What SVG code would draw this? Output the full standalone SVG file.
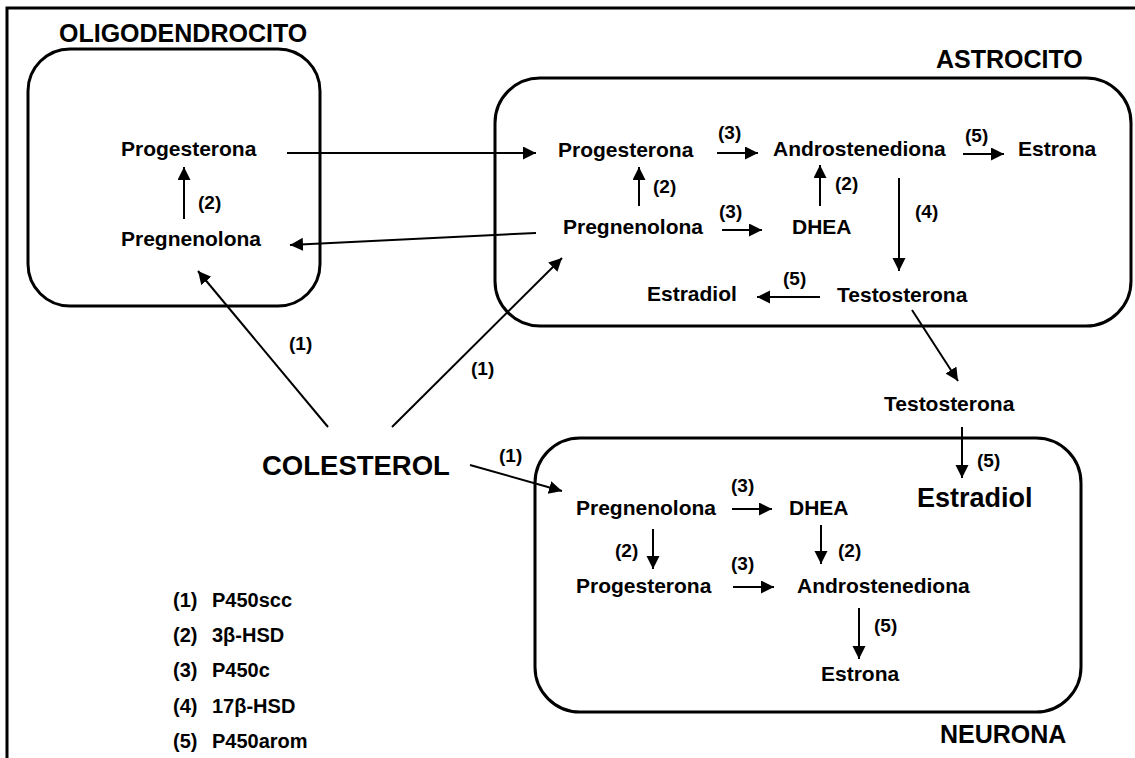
<svg xmlns="http://www.w3.org/2000/svg" width="1135" height="758" viewBox="0 0 1135 758">
<defs>
<style>
text{font-family:"Liberation Sans",Arial,sans-serif;font-weight:bold;fill:#000}
.t{font-size:21px}
.s{font-size:19px}
.h{font-size:25px}
.g{font-size:27.5px}
.l{font-size:20px}
.box{fill:none;stroke:#000;stroke-width:3}
.c{fill:none;stroke:#000;stroke-width:2}
</style>
<marker id="a" markerUnits="userSpaceOnUse" markerWidth="14" markerHeight="14" refX="13" refY="6.5" orient="auto"><path d="M0,0 L13,6.5 L0,13 z" fill="#000"/></marker>
</defs>
<rect width="1135" height="758" fill="#fff"/>
<g id="frame"><path d="M7,758 V8 H1135" fill="none" stroke="#000" stroke-width="3"/></g>

<g id="oligodendrocito">
<rect class="box" x="28" y="49" width="292" height="257" rx="42"/>
<text class="h" x="59" y="42">OLIGODENDROCITO</text>
<text class="t" x="121" y="156">Progesterona</text>
<text class="t" x="121" y="246">Pregnenolona</text>
</g>

<g id="astrocito">
<rect class="box" x="495" y="78" width="636" height="248" rx="45"/>
<text class="h" x="936" y="68">ASTROCITO</text>
<text class="t" x="558" y="157">Progesterona</text>
<text class="t" x="773" y="156">Androstenediona</text>
<text class="t" x="1018" y="156">Estrona</text>
<text class="t" x="563" y="234">Pregnenolona</text>
<text class="t" x="792" y="234">DHEA</text>
<text class="t" x="647" y="301">Estradiol</text>
<text class="t" x="837" y="302">Testosterona</text>
</g>

<g id="neurona">
<rect class="box" x="535" y="438" width="546" height="274" rx="45"/>
<text class="h" x="940" y="743">NEURONA</text>
<text class="t" x="576" y="515">Pregnenolona</text>
<text class="t" x="789" y="515">DHEA</text>
<text class="t" x="576" y="593">Progesterona</text>
<text class="t" x="797" y="593">Androstenediona</text>
<text class="t" x="821" y="681">Estrona</text>
<text style="font-size:27px" x="917" y="507">Estradiol</text>
</g>

<g id="testosterona-ext"><text class="t" x="884" y="411">Testosterona</text></g>
<g id="colesterol"><text class="g" x="262" y="475">COLESTEROL</text></g>

<g id="leyenda" class="l">
<text class="l" x="173" y="607">(1)</text><text class="l" x="212" y="607">P450scc</text>
<text class="l" x="173" y="642">(2)</text><text class="l" x="212" y="642">3β-HSD</text>
<text class="l" x="173" y="677">(3)</text><text class="l" x="212" y="677">P450c</text>
<text class="l" x="173" y="713">(4)</text><text class="l" x="212" y="713">17β-HSD</text>
<text class="l" x="173" y="748">(5)</text><text class="l" x="212" y="748">P450arom</text>
</g>

<g id="connectors">
<line class="c" x1="184" y1="219" x2="184" y2="167" marker-end="url(#a)"/>
<line class="c" x1="287" y1="153" x2="536" y2="153" marker-end="url(#a)"/>
<line class="c" x1="536" y1="233" x2="290" y2="245" marker-end="url(#a)"/>
<line class="c" x1="328" y1="427" x2="198" y2="271" marker-end="url(#a)"/>
<line class="c" x1="392" y1="427" x2="562" y2="258" marker-end="url(#a)"/>
<line class="c" x1="470" y1="465" x2="562" y2="491" marker-end="url(#a)"/>
<line class="c" x1="717" y1="153" x2="758" y2="153" marker-end="url(#a)"/>
<line class="c" x1="963" y1="154" x2="1004" y2="154" marker-end="url(#a)"/>
<line class="c" x1="722" y1="230" x2="762" y2="230" marker-end="url(#a)"/>
<line class="c" x1="639" y1="206" x2="639" y2="167" marker-end="url(#a)"/>
<line class="c" x1="820" y1="206" x2="820" y2="165" marker-end="url(#a)"/>
<line class="c" x1="899" y1="178" x2="899" y2="271" marker-end="url(#a)"/>
<line class="c" x1="820" y1="297" x2="757" y2="297" marker-end="url(#a)"/>
<line class="c" x1="912" y1="310" x2="958" y2="381" marker-end="url(#a)"/>
<line class="c" x1="962" y1="427" x2="962" y2="478" marker-end="url(#a)"/>
<line class="c" x1="732" y1="509" x2="772" y2="509" marker-end="url(#a)"/>
<line class="c" x1="733" y1="587" x2="774" y2="587" marker-end="url(#a)"/>
<line class="c" x1="653" y1="529" x2="653" y2="569" marker-end="url(#a)"/>
<line class="c" x1="821" y1="525" x2="821" y2="564" marker-end="url(#a)"/>
<line class="c" x1="859" y1="608" x2="859" y2="659" marker-end="url(#a)"/>
<g class="s">
<text class="s" x="198" y="209">(2)</text>
<text class="s" x="289" y="350">(1)</text>
<text class="s" x="471" y="375">(1)</text>
<text class="s" x="499" y="462">(1)</text>
<text class="s" x="718" y="139">(3)</text>
<text class="s" x="965" y="142">(5)</text>
<text class="s" x="653" y="193">(2)</text>
<text class="s" x="835" y="190">(2)</text>
<text class="s" x="719" y="218">(3)</text>
<text class="s" x="915" y="218">(4)</text>
<text class="s" x="783" y="285">(5)</text>
<text class="s" x="977" y="467">(5)</text>
<text class="s" x="731" y="492">(3)</text>
<text class="s" x="615" y="557">(2)</text>
<text class="s" x="838" y="557">(2)</text>
<text class="s" x="731" y="570">(3)</text>
<text class="s" x="874" y="632">(5)</text>
</g>
</g>
</svg>
